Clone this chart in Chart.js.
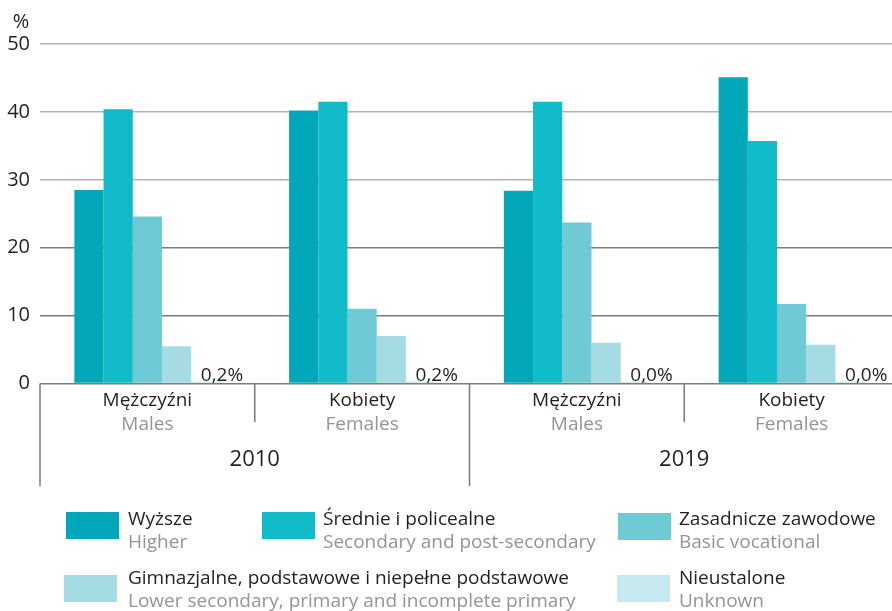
<!DOCTYPE html>
<html>
<head>
<meta charset="utf-8">
<script src="https://cdn.jsdelivr.net/npm/chart.js@4/dist/chart.umd.min.js"></script>
<style>
  html, body { margin: 0; padding: 0; background: #ffffff; }
  #wrap { width: 892px; height: 611px; position: relative; overflow: hidden; }
  #c { position: absolute; left: 0; top: 0; }
</style>
</head>
<body>
<div id="wrap"><canvas id="c" width="899" height="611"></canvas></div>
<script>
// Categories: sex within year
const groupsPl = ['Mężczyźni', 'Kobiety', 'Mężczyźni', 'Kobiety'];
const groupsEn = ['Males', 'Females', 'Males', 'Females'];
const years = ['2010', '2019'];

// Education levels (series)
const seriesPl = ['Wyższe', 'Średnie i policealne', 'Zasadnicze zawodowe',
                  'Gimnazjalne, podstawowe i niepełne podstawowe', 'Nieustalone'];
const seriesEn = ['Higher', 'Secondary and post-secondary', 'Basic vocational',
                  'Lower secondary, primary and incomplete primary', 'Unknown'];

// Shares in %
const higher     = [28.5, 40.2, 28.4, 45.1];
const secondary  = [40.4, 41.5, 41.5, 35.7];
const vocational = [24.6, 11.0, 23.7, 11.7];
const lower      = [5.5, 7.0, 6.0, 5.7];
const unknown    = [0.2, 0.2, 0.0, 0.0];
const unknownLabels = ['0,2%', '0,2%', '0,0%', '0,0%'];

const yTicks = [0, 10, 20, 30, 40, 50];
const colors = ['#02a7b9', '#11bbc9', '#6ecad4', '#a5dce4', '#c6e9ef'];

const FONT = '"Open Sans", "Noto Sans", sans-serif';
const DARK = '#231f20';
const GREY = '#939496';

const seriesValues = [higher, secondary, vocational, lower, unknown];

const decorations = {
  id: 'decorations',
  afterDatasetsDraw(chart) {
    const ctx = chart.ctx;
    const x = chart.scales.x;
    const area = chart.chartArea;
    ctx.save();

    // value labels next to the "unknown" bars
    const meta = chart.getDatasetMeta(4);
    ctx.font = '19px ' + FONT;
    ctx.fillStyle = DARK;
    ctx.textAlign = 'left';
    ctx.textBaseline = 'alphabetic';
    meta.data.forEach((bar, i) => {
      ctx.fillText(unknownLabels[i], bar.x - 5, area.bottom - 3);
    });

    // unit label
    ctx.font = '20px ' + FONT;
    ctx.textAlign = 'center';
    ctx.fillText('%', 21, 28);

    // category separators below the axis
    const step = x.getPixelForValue(1) - x.getPixelForValue(0);
    const bound = i => x.getPixelForValue(i) - step / 2;
    ctx.strokeStyle = '#7a7a7a';
    ctx.lineWidth = 1.5;
    for (let i = 0; i <= groupsPl.length; i++) {
      const bx = bound(i);
      const long = i % 2 === 0;
      ctx.beginPath();
      ctx.moveTo(bx, area.bottom);
      ctx.lineTo(bx, long ? 486 : 422);
      ctx.stroke();
    }

    // category names
    ctx.textAlign = 'center';
    for (let i = 0; i < groupsPl.length; i++) {
      const cx = x.getPixelForValue(i);
      ctx.font = '19px ' + FONT;
      ctx.fillStyle = DARK;
      ctx.fillText(groupsPl[i], cx, 406);
      ctx.fillStyle = GREY;
      ctx.fillText(groupsEn[i], cx, 430);
    }

    // year labels, centred under each pair of categories
    ctx.font = '22px ' + FONT;
    ctx.fillStyle = DARK;
    years.forEach((y, k) => {
      const cx = (bound(2 * k) + bound(2 * k + 2)) / 2;
      ctx.fillText(y, cx, 466);
    });

    // legend
    const legendItems = [
      { box: [66, 512], text: 128 },
      { box: [262, 512], text: 323 },
      { box: [618, 513], text: 679 },
      { box: [64, 575], text: 128 },
      { box: [617, 575], text: 679 }
    ];
    ctx.textAlign = 'left';
    legendItems.forEach((it, i) => {
      ctx.fillStyle = colors[i];
      ctx.fillRect(it.box[0], it.box[1], 53, 27);
      const base = i < 3 ? 525 : 584;
      ctx.font = '19px ' + FONT;
      ctx.fillStyle = DARK;
      ctx.fillText(seriesPl[i], it.text, base);
      ctx.fillStyle = GREY;
      ctx.fillText(seriesEn[i], it.text, base + 23);
    });

    ctx.restore();
  }
};

new Chart(document.getElementById('c'), {
  type: 'bar',
  data: {
    labels: groupsPl.map((g, i) => g + ' ' + groupsEn[i]),
    datasets: seriesPl.map((name, i) => ({
      label: name,
      data: seriesValues[i],
      backgroundColor: colors[i],
      borderWidth: 0,
      barPercentage: 1,
      categoryPercentage: 0.68,
      minBarLength: i === 4 ? 2 : 0
    }))
  },
  options: {
    responsive: false,
    animation: false,
    devicePixelRatio: 1,
    layout: { padding: { top: 44, right: 0, bottom: 227.5, left: 0 } },
    plugins: {
      legend: { display: false },
      tooltip: { enabled: false }
    },
    scales: {
      x: {
        display: false
      },
      y: {
        min: 0,
        max: 50,
        afterFit(scale) { scale.width = 40; },
        afterBuildTicks(scale) { scale.ticks = yTicks.map(v => ({ value: v })); },
        border: { display: false },
        grid: {
          drawTicks: false,
          lineWidth: 1.6,
          color: ctx => (ctx.tick && ctx.tick.value >= 30) ? '#b3b3b3' : '#7d7d7d'
        },
        ticks: {
          padding: 10,
          color: DARK,
          font: { family: FONT, size: 20 }
        }
      }
    }
  },
  plugins: [decorations]
});
</script>
</body>
</html>
